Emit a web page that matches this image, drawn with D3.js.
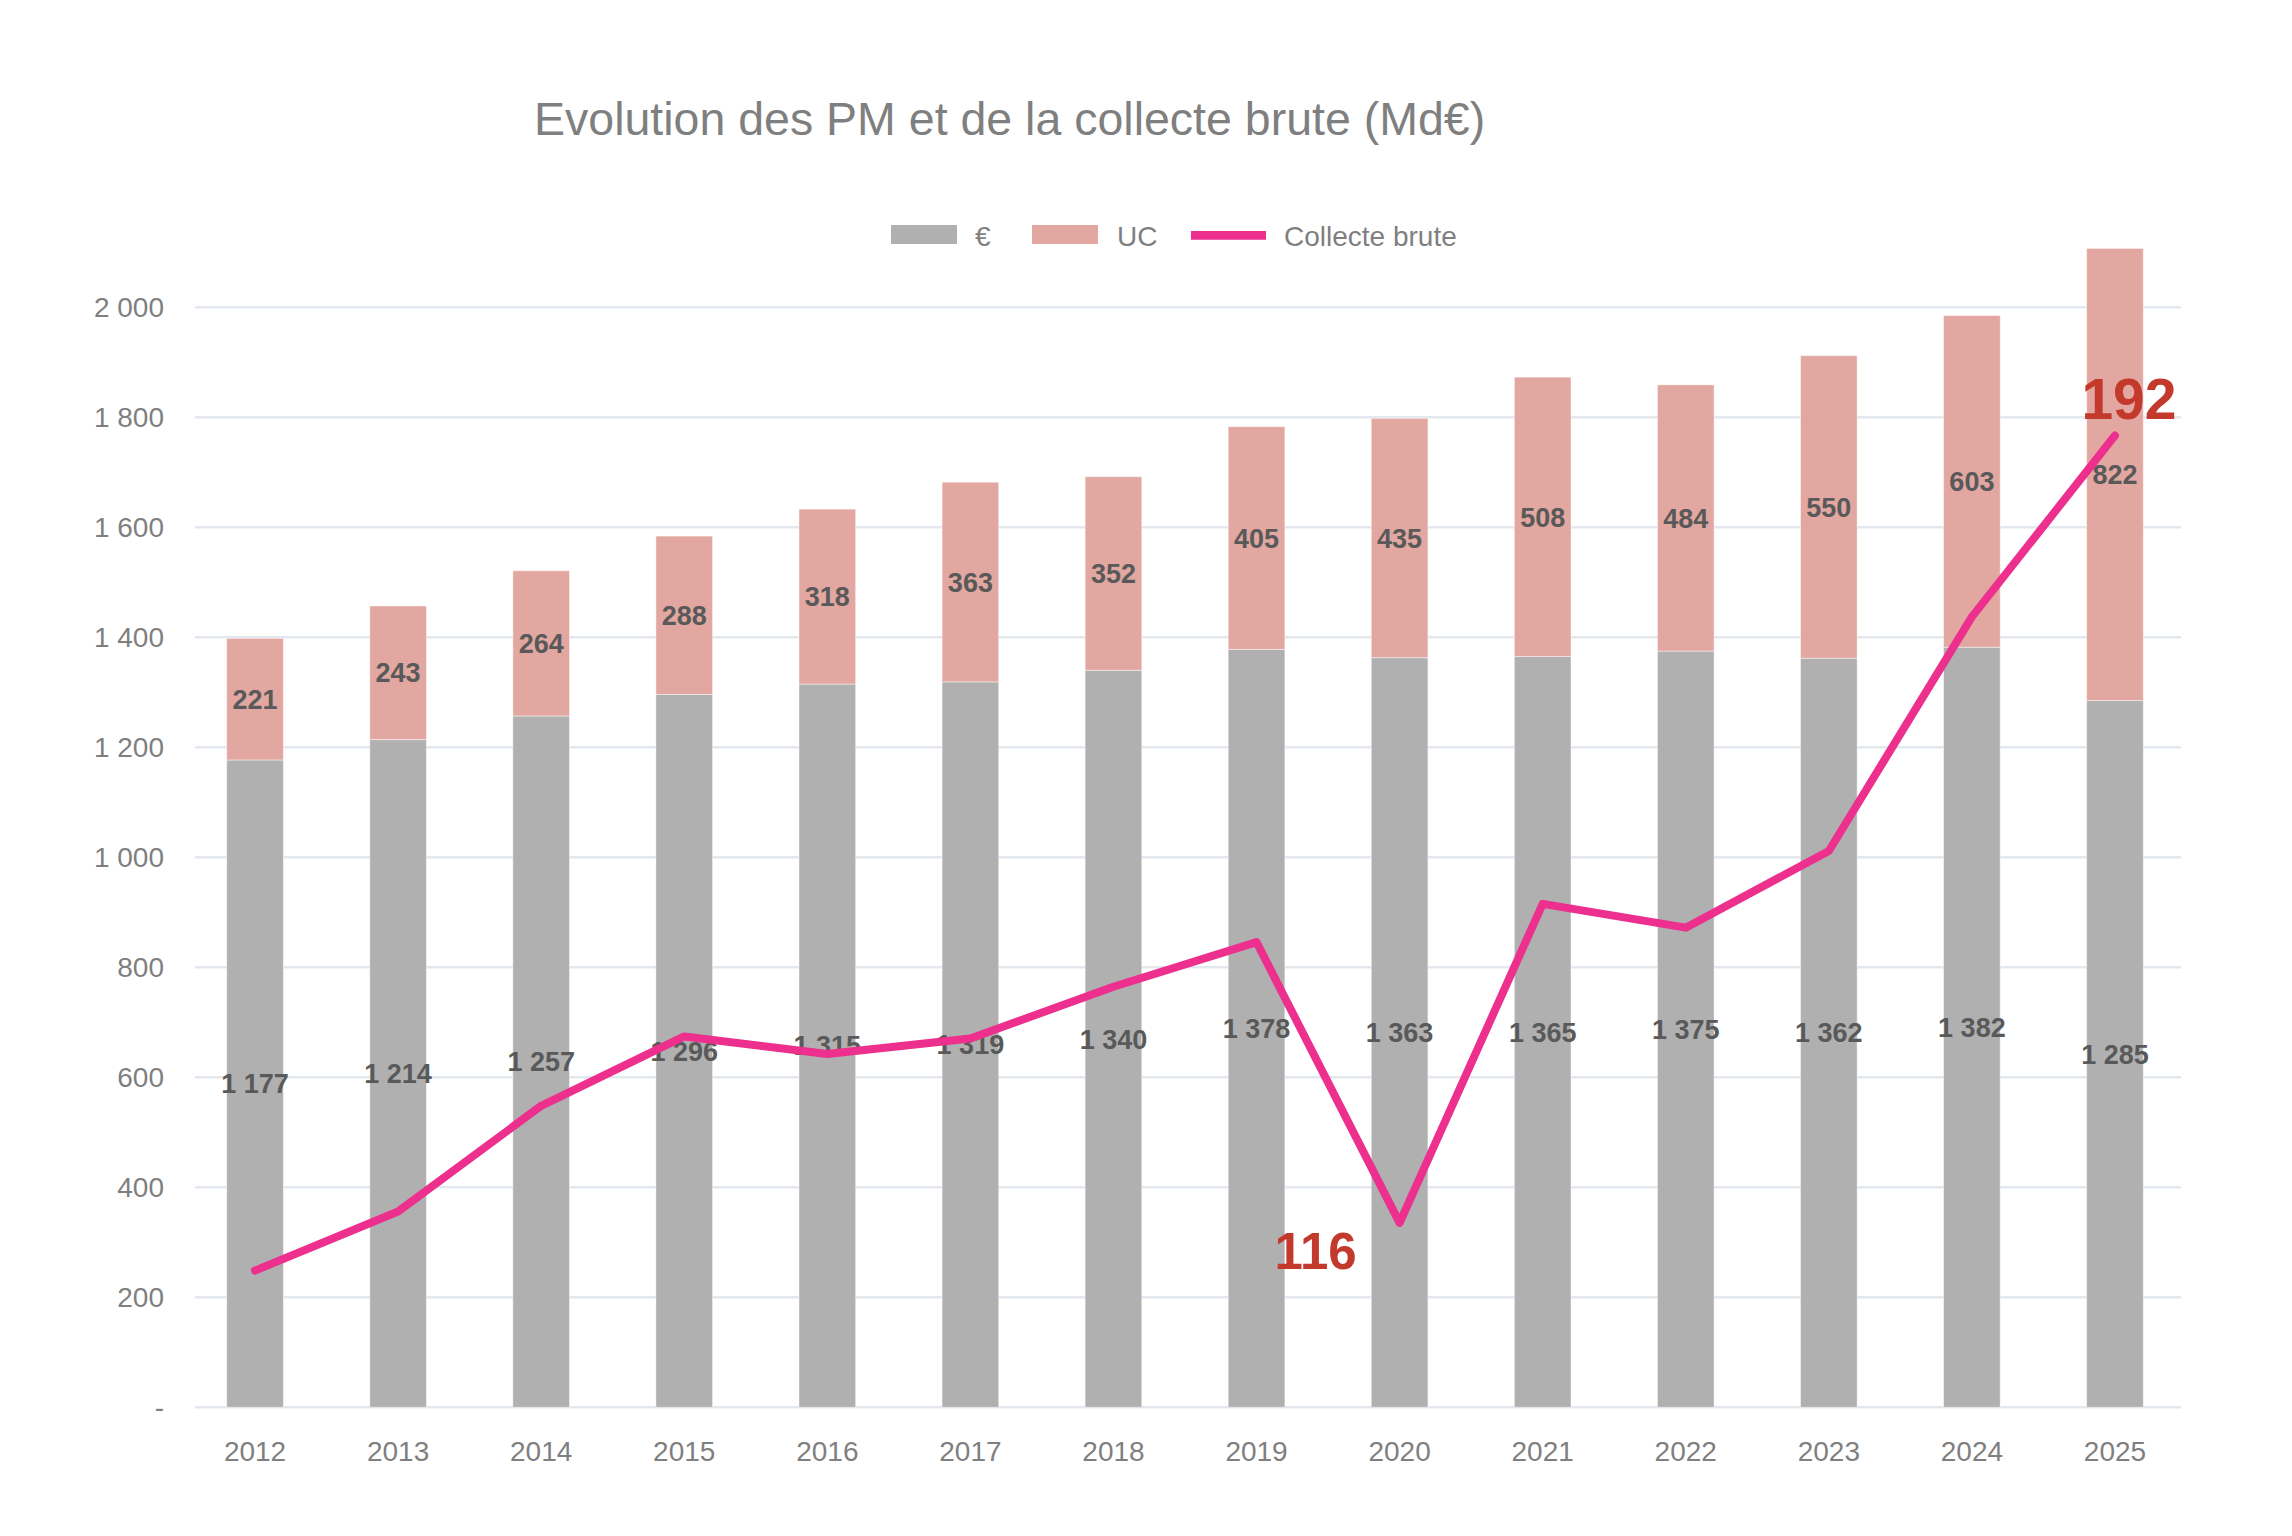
<!DOCTYPE html>
<html>
<head>
<meta charset="utf-8">
<script src="https://cdn.jsdelivr.net/npm/d3@7"></script>
<style>
  body { margin: 0; background: #fff; }
  text { font-family: "Liberation Sans", Arial, sans-serif; }
</style>
</head>
<body>
<div id="chart"></div>
<script>
// Data (Md€)
var years    = ["2012","2013","2014","2015","2016","2017","2018","2019","2020","2021","2022","2023","2024","2025"];
var euro     = [1177, 1214, 1257, 1296, 1315, 1319, 1340, 1378, 1363, 1365, 1375, 1362, 1382, 1285];
var uc       = [221, 243, 264, 288, 318, 363, 352, 405, 435, 508, 484, 550, 603, 822];
var collecte = [111.4, 117.1, 127.3, 134.0, 132.3, 133.8, 138.8, 143.1, 116, 146.8, 144.5, 151.9, 174.5, 192];
var yTicks   = [0, 200, 400, 600, 800, 1000, 1200, 1400, 1600, 1800, 2000];
var callouts = ["2020", "2025"];

var W = 2292, H = 1536;
var fr = d3.formatLocale({ decimal: ",", thousands: " ", grouping: [3], currency: ["", " €"] });
var fmt = fr.format(",.0f");

var svg = d3.select("#chart").append("svg")
    .attr("width", W)
    .attr("height", H);

// Scales
var x = d3.scaleBand()
    .domain(years)
    .range([183.5, 2186.5])
    .paddingInner(0.604)
    .paddingOuter(0.302);

var y = d3.scaleLinear()
    .domain([0, 2200])
    .range([1407.3, 197.3]);

// hidden secondary axis for the line
var y2 = d3.scaleLinear()
    .domain([98.2, 215])
    .range([y(0), y(2200)]);

// Title
svg.append("text")
    .attr("x", 534)
    .attr("y", 135)
    .attr("font-size", 46.5)
    .attr("fill", "#7f7f7f")
    .text("Evolution des PM et de la collecte brute (Md€)");

// Gridlines + y labels
var grid = svg.append("g");
grid.selectAll("line")
    .data(yTicks)
    .enter()
    .append("line")
      .attr("x1", 195)
      .attr("x2", 2181)
      .attr("y1", function(d) { return y(d); })
      .attr("y2", function(d) { return y(d); })
      .attr("stroke", "#e3e7ee")
      .attr("stroke-width", 2.6);

grid.selectAll("text")
    .data(yTicks)
    .enter()
    .append("text")
      .attr("x", 164)
      .attr("y", function(d) { return y(d); })
      .attr("dy", "0.36em")
      .attr("text-anchor", "end")
      .attr("font-size", 28)
      .attr("fill", "#7f7f7f")
      .text(function(d) { return d === 0 ? "-" : fmt(d); });

// x labels
svg.append("g").selectAll("text")
    .data(years)
    .enter()
    .append("text")
      .attr("x", function(d) { return x(d) + x.bandwidth() / 2; })
      .attr("y", 1461)
      .attr("text-anchor", "middle")
      .attr("font-size", 28)
      .attr("fill", "#7f7f7f")
      .text(function(d) { return d; });

// Stacked bars
var rows = years.map(function(yr, i) { return { year: yr, euro: euro[i], uc: uc[i] }; });
var stack = d3.stack().keys(["euro", "uc"])(rows);
var colors = { euro: "#b0b0b0", uc: "#e2a7a0" };

svg.append("g").selectAll("g")
    .data(stack)
    .enter()
    .append("g")
      .attr("fill", function(s) { return colors[s.key]; })
    .selectAll("rect")
    .data(function(s) { return s; })
    .enter()
    .append("rect")
      .attr("x", function(d) { return x(d.data.year); })
      .attr("width", x.bandwidth())
      .attr("y", function(d) { return y(d[1]); })
      .attr("height", function(d) { return y(d[0]) - y(d[1]); })
      .attr("stroke", "#ffffff")
      .attr("stroke-opacity", 0.45)
      .attr("stroke-width", 1);

// value labels in the middle of each segment
svg.append("g").selectAll("g")
    .data(stack)
    .enter()
    .append("g")
    .selectAll("text")
    .data(function(s) { return s; })
    .enter()
    .append("text")
      .attr("x", function(d) { return x(d.data.year) + x.bandwidth() / 2; })
      .attr("y", function(d) { return y((d[0] + d[1]) / 2); })
      .attr("dy", "0.36em")
      .attr("text-anchor", "middle")
      .attr("font-size", 27)
      .attr("font-weight", "bold")
      .attr("fill", "#595959")
      .text(function(d) { return fmt(d[1] - d[0]); });

// Collecte brute line
var line = d3.line()
    .x(function(d, i) { return x(years[i]) + x.bandwidth() / 2; })
    .y(function(d) { return y2(d); });

svg.append("path")
    .datum(collecte)
    .attr("d", line)
    .attr("fill", "none")
    .attr("stroke", "#ed2f8d")
    .attr("stroke-width", 8)
    .attr("stroke-linejoin", "round")
    .attr("stroke-linecap", "round");

// Callouts
var callSpec = {
  "2020": { dx: -84, dy: 46, size: 51 },
  "2025": { dx: 14, dy: -17, size: 57 }
};
svg.append("g").selectAll("text")
    .data(callouts)
    .enter()
    .append("text")
      .attr("x", function(d) { return x(d) + x.bandwidth() / 2 + callSpec[d].dx; })
      .attr("y", function(d) { return y2(collecte[years.indexOf(d)]) + callSpec[d].dy; })
      .attr("text-anchor", "middle")
      .attr("font-size", function(d) { return callSpec[d].size; })
      .attr("font-weight", "bold")
      .attr("fill", "#c3392c")
      .text(function(d) { return fmt(collecte[years.indexOf(d)]); });

// Legend
var legend = svg.append("g");
legend.append("rect").attr("x", 891).attr("y", 225).attr("width", 66).attr("height", 19).attr("fill", colors.euro);
legend.append("text").attr("x", 975).attr("y", 246).attr("font-size", 28).attr("fill", "#7f7f7f").text("€");
legend.append("rect").attr("x", 1032).attr("y", 225).attr("width", 66).attr("height", 19).attr("fill", colors.uc);
legend.append("text").attr("x", 1117).attr("y", 246).attr("font-size", 28).attr("fill", "#7f7f7f").text("UC");
legend.append("line").attr("x1", 1191).attr("x2", 1266).attr("y1", 235.4).attr("y2", 235.4)
    .attr("stroke", "#ed2f8d").attr("stroke-width", 8.7);
legend.append("text").attr("x", 1284).attr("y", 246).attr("font-size", 28).attr("fill", "#7f7f7f").text("Collecte brute");
</script>
</body>
</html>
